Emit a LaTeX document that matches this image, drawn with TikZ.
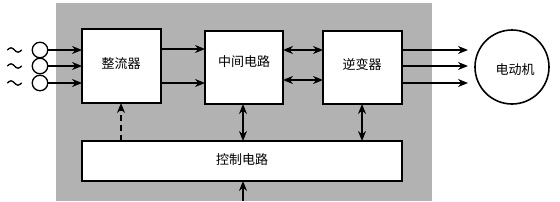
\documentclass[tikz,border=0pt]{standalone}
\usepackage{fontspec}
\newfontfamily\cjk{Noto Sans CJK SC}
\usetikzlibrary{arrows.meta}
\begin{document}
\begin{tikzpicture}[x=1pt,y=-1pt,
  blk/.style={draw=black,line width=1.6pt,fill=white},
  lbl/.style={font=\cjk\fontsize{13}{15}\selectfont,inner sep=0pt},
  arr/.style={line width=1.4pt,-{Stealth[length=10pt,width=8pt]}},
  darr/.style={line width=1.4pt,{Stealth[length=10pt,width=8pt]}-{Stealth[length=10pt,width=8pt]}},
  wave/.style={line width=1.3pt,line cap=round}]
\useasboundingbox (0,0) rectangle (560,201);
\fill[white] (0,0) rectangle (560,201);
\fill[black!30] (56,3) rectangle (432,201);
% blocks
\draw[blk] (82,29) rectangle (161,103);
\draw[blk] (205,31) rectangle (283,104);
\draw[blk] (323,31) rectangle (402,104);
\draw[blk] (82,141) rectangle (402,181);
\node[lbl] (t1) at (121,64) {整流器};
\node[lbl] (t2) at (244,62) {中间电路};
\node[lbl] (t3) at (362,65) {逆变器};
\node[lbl] (t4) at (242,160) {控制电路};
% motor
\node[draw,line width=1.6pt,circle,minimum size=74pt,inner sep=0pt] (m) at (512,67) {};
\node[lbl] (mt) at (515,70) {电动机};
% input terminals
\foreach \y/\n in {50/a,66/b,83/c}{
  \node[draw,line width=1.3pt,circle,minimum size=15.5pt,inner sep=0pt,fill=white] (in\n) at (40,\y) {};
  \draw[wave] (7.5,\y) sin (11,\y-2.2) cos (14.5,\y) sin (18,\y+2.2) cos (21.5,\y);
  \coordinate (r\n) at (82,\y);
  \draw[arr] (in\n) -- (r\n);
}
% rectifier -> middle
\foreach \y in {49,83}{
  \draw[arr] (161,\y) -- (205,\y);
}
% middle <-> inverter
\foreach \y in {50,80}{
  \draw[darr] (283,\y) -- (323,\y);
}
% inverter -> motor
\foreach \y in {50,66,83}{
  \draw[arr] (402,\y) -- (468,\y);
}
% control links
\draw[line width=1.4pt,dash pattern=on 6pt off 4pt,-{Stealth[length=10pt,width=8pt]}] (121,141) -- (121,103);
\draw[darr] (243,104) -- (243,141);
\draw[darr] (362,104) -- (362,141);
\draw[arr] (243,201) -- (243,181);
\end{tikzpicture}
\end{document}
